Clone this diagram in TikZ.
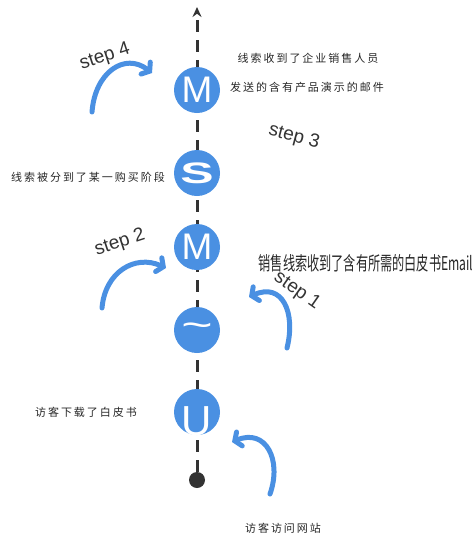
\documentclass[tikz,border=0pt]{standalone}
\usepackage{fontspec}
\setmainfont{Liberation Sans}
\newfontfamily\cjk[LetterSpace=18]{Noto Sans CJK SC}
\newfontfamily\cjkcond{Noto Sans CJK SC}
\usetikzlibrary{arrows.meta}

\definecolor{stepblue}{HTML}{4A90E2}
\definecolor{axisgray}{HTML}{333333}

\begin{document}
\begin{tikzpicture}[x=1pt, y=-1pt,
    % Stage circles along the timeline
    stage/.style={circle, fill=stepblue, minimum size=46pt, inner sep=0pt, text=white, font=\fontsize{37}{37}\selectfont},
    startdot/.style={circle, fill=axisgray, minimum size=16pt, inner sep=0pt},
    % Arrow styles
    timeline/.style={axisgray, line width=3pt, dash pattern=on 12pt off 8pt, -{Stealth[length=10pt,width=9pt]}},
    nudge/.style={stepblue, line width=5pt, line cap=round, -{Straight Barb[length=5pt,width=15pt,line cap=round]}},
    % Text styles
    steplabel/.style={text=axisgray, font=\fontsize{19}{19}\selectfont},
    note/.style={text=black!85, font=\cjk\fontsize{11}{11}\selectfont}
]
\useasboundingbox (0,0) rectangle (474,544);

% Start of the timeline and its arrow end
\node[startdot] (start) at (197,480) {};
\coordinate (top) at (197,7);
\draw[timeline] (start) -- (top);

% Stages, bottom to top
\node[stage, path picture={\node[text=white, font=\fontsize{42}{42}\selectfont] at ([yshift=-9pt]path picture bounding box.center) {U};}] (download) at (197,412) {};
\node[stage] (visit) at (197,330) {\raisebox{-5pt}{\scalebox{1.45}[1]{\textasciitilde}}};
\node[stage] (mail) at (197,247) {M};
\node[stage] (segment) at (197,173) {\textbf{\scalebox{1.35}[0.8]{S}}};
\node[stage] (demo) at (197,90) {M};

% Step labels
\node[steplabel, rotate=18] (step4) at (105,57) {step 4};
\node[steplabel, rotate=-15] (step3) at (294,137) {step 3};
\node[steplabel, rotate=18] (step2) at (120,243) {step 2};
\node[steplabel, rotate=-35] (step1) at (297,291) {step 1};

% Notes beside the stages
\node[note] (demonote1) at (308,58) {线索收到了企业销售人员};
\node[note] (demonote2) at (307,87) {发送的含有产品演示的邮件};
\node[note] (segnote) at (88,177) {线索被分到了某一购买阶段};
\node[text=black!85, font=\cjkcond\fontsize{19}{19}\selectfont, xscale=0.64] (mailnote) at (366,263) {销售线索收到了含有所需的白皮书Email};
\node[note] (downnote) at (86,412) {访客下载了白皮书};
\node[note] (visitnote) at (283,528) {访客访问网站};

% Curved arrows pointing at the stages
\coordinate (a4s) at (92,112);  \coordinate (a4e) at (152,73);
\coordinate (a2s) at (102,308); \coordinate (a2e) at (166,268);
\coordinate (a1s) at (287,348); \coordinate (a1e) at (249,297);
\coordinate (a0s) at (270,494); \coordinate (a0e) at (232,442);
\draw[nudge] (a4s) .. controls (95,72) and (125,52) .. (a4e);
\draw[nudge] (a2s) .. controls (105,272) and (135,254) .. (a2e);
\draw[nudge] (a1s) .. controls (296,312) and (282,282) .. (a1e);
\draw[nudge] (a0s) .. controls (282,460) and (266,428) .. (a0e);

\end{tikzpicture}
\end{document}
